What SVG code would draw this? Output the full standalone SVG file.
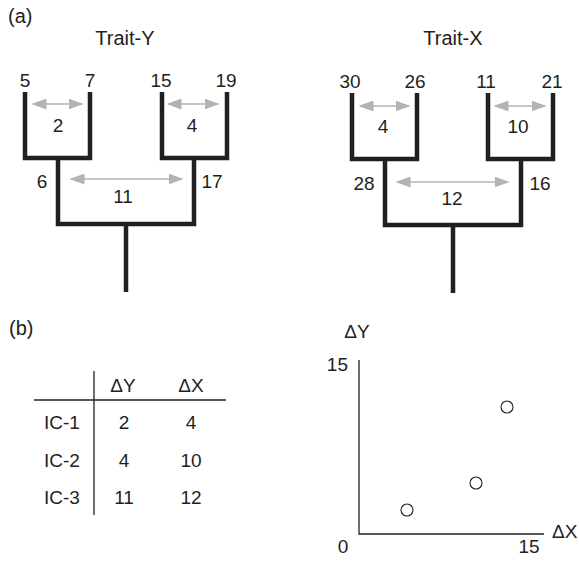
<svg xmlns="http://www.w3.org/2000/svg" width="579" height="561" viewBox="0 0 579 561">
<defs>
<style>
text{font-family:"Liberation Sans",Arial,sans-serif;fill:#231f20;}
.t{font-size:19px;text-anchor:middle;}
.lab{font-size:20px;}
.tree{fill:none;stroke:#231f20;stroke-width:4.5;stroke-linejoin:miter;stroke-linecap:butt;}
.arr{stroke:#b3b3b3;stroke-width:1.6;marker-start:url(#ah);marker-end:url(#ah);}
.ax{stroke:#231f20;stroke-width:1.3;fill:none;}
.pt{fill:#fff;stroke:#231f20;stroke-width:1.1;}
</style>
<marker id="ah" viewBox="0 0 10 10" refX="9" refY="5" markerWidth="15" markerHeight="11" markerUnits="userSpaceOnUse" orient="auto-start-reverse" preserveAspectRatio="none">
<path d="M0,0 L10,5 L0,10 z" fill="#b3b3b3"/>
</marker>
</defs>
<text class="lab" x="8" y="23">(a)</text>
<g id="treeY">
<text class="t" x="125" y="45" style="font-size:20px">Trait-Y</text>
<path class="tree" d="M25,92 V158 H90 V92 M162,92 V158 H227 V92 M58,158 V224 H194 V158 M126,224 V292"/>
<text class="t" x="25" y="87">5</text>
<text class="t" x="90" y="87">7</text>
<text class="t" x="161" y="87">15</text>
<text class="t" x="226" y="87">19</text>
<text class="t" x="42" y="188">6</text>
<text class="t" x="212" y="188">17</text>
<line class="arr" x1="33" y1="104" x2="82" y2="104"/>
<line class="arr" x1="168" y1="104" x2="218" y2="104"/>
<line class="arr" x1="71" y1="179" x2="182" y2="179"/>
<text class="t" x="58" y="132">2</text>
<text class="t" x="192" y="132">4</text>
<text class="t" x="123" y="203">11</text>
</g>
<g id="treeX">
<text class="t" x="453" y="45" style="font-size:20px">Trait-X</text>
<path class="tree" d="M352,93 V159 H417 V93 M488,93 V159 H553 V93 M385,159 V225 H521 V159 M453,225 V293"/>
<text class="t" x="350" y="88">30</text>
<text class="t" x="415" y="88">26</text>
<text class="t" x="486" y="88">11</text>
<text class="t" x="552" y="88">21</text>
<text class="t" x="364" y="190">28</text>
<text class="t" x="540" y="190">16</text>
<line class="arr" x1="360" y1="106" x2="409" y2="106"/>
<line class="arr" x1="495" y1="106" x2="545" y2="106"/>
<line class="arr" x1="397" y1="182" x2="508" y2="182"/>
<text class="t" x="383" y="133">4</text>
<text class="t" x="518" y="133">10</text>
<text class="t" x="452" y="205">12</text>
</g>
<text class="lab" x="9" y="335">(b)</text>
<g id="table">
<line class="ax" x1="94" y1="371" x2="94" y2="515"/>
<line class="ax" x1="34" y1="400" x2="226" y2="400"/>
<text class="t" x="123" y="392">ΔY</text>
<text class="t" x="191" y="392">ΔX</text>
<text class="t" x="62" y="429">IC-1</text>
<text class="t" x="62" y="467">IC-2</text>
<text class="t" x="62" y="504">IC-3</text>
<text class="t" x="124" y="429">2</text>
<text class="t" x="191" y="429">4</text>
<text class="t" x="124" y="467">4</text>
<text class="t" x="191" y="467">10</text>
<text class="t" x="124" y="504">11</text>
<text class="t" x="191" y="504">12</text>
</g>
<g id="plot">
<path class="ax" d="M359,360 V534 H544"/>
<text class="t" x="357" y="338">ΔY</text>
<text class="t" x="348" y="371" style="text-anchor:end">15</text>
<text class="t" x="343" y="553">0</text>
<text class="t" x="529" y="553">15</text>
<text class="t" x="552" y="538" style="text-anchor:start">ΔX</text>
<circle class="pt" cx="407" cy="510" r="6"/>
<circle class="pt" cx="476" cy="483" r="6"/>
<circle class="pt" cx="507" cy="407" r="6"/>
</g>
</svg>
